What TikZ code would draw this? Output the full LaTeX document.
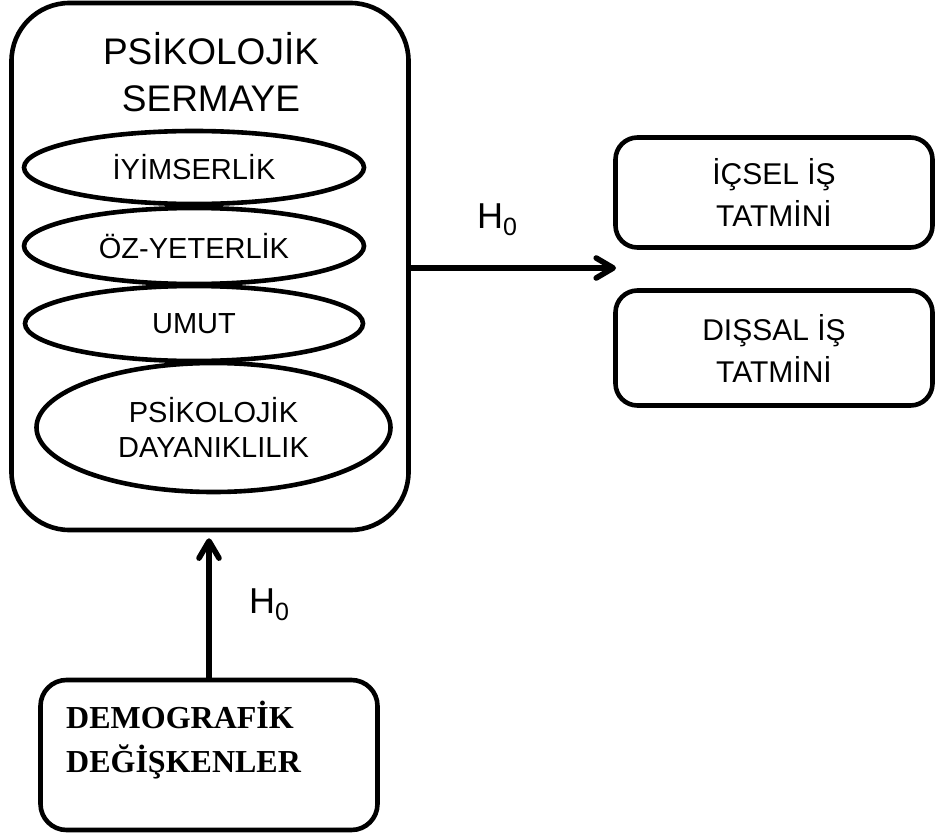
\documentclass[tikz,border=0pt]{standalone}
\usepackage{fontspec}
\setmainfont{Liberation Sans}
\newfontfamily\demofont{Liberation Serif}
\usetikzlibrary{shapes.geometric,arrows.meta}

% subscripted hypothesis label
\newcommand{\hyplabel}{H\raisebox{-7pt}{\fontsize{25}{25}\selectfont 0}}

\begin{document}
\begin{tikzpicture}[x=1pt,y=-1pt,
  frame/.style={draw,line width=4.6pt,rounded corners=58pt,inner sep=0pt},
  trait/.style={draw,ellipse,line width=4.6pt,inner sep=0pt,align=center,
    font=\fontsize{29}{35}\selectfont},
  outcome/.style={draw,line width=4.6pt,rounded corners=22pt,inner sep=0pt,
    align=center,font=\fontsize{30}{42}\selectfont},
  source/.style={draw,line width=4.6pt,rounded corners=26pt,inner sep=0pt},
  link/.style={line width=5.6pt,line cap=round,
    -{Straight Barb[length=17pt,width=20pt,line cap=round,line join=round]}},
  hyp/.style={inner sep=0pt,anchor=base west,font=\fontsize{36}{36}\selectfont}
]
\useasboundingbox (0,0) rectangle (936,837);

% psychological capital block
\node[frame,minimum width=397pt,minimum height=527pt] (capital) at (210,266.5) {};
\node[inner sep=0pt,align=center,font=\fontsize{37}{47}\selectfont] (title) at (211,72)
  {PSİKOLOJİK\\SERMAYE};
\node[trait,minimum width=340pt,minimum height=73pt] (optimism) at (194,167.5) {İYİMSERLİK};
\node[trait,minimum width=340pt,minimum height=76pt] (efficacy) at (194,246) {ÖZ-YETERLİK};
\node[trait,minimum width=338pt,minimum height=75pt] (hope) at (194,323.5) {UMUT};
\node[trait,minimum width=354pt,minimum height=129pt] (resilience) at (213.5,427.5)
  {PSİKOLOJİK\\DAYANIKLILIK};

% job satisfaction outcomes
\node[outcome,minimum width=317pt,minimum height=110pt] (intrinsic) at (774,192.5)
  {İÇSEL İŞ\\TATMİNİ};
\node[outcome,minimum width=317pt,minimum height=115pt] (extrinsic) at (774,348)
  {DIŞSAL İŞ\\TATMİNİ};

% demographic variables
\node[source,minimum width=337pt,minimum height=150pt] (demo) at (209,755) {};
\node[inner sep=0pt,anchor=west,align=left,
  font=\demofont\bfseries\fontsize{32}{44}\selectfont] (demotext) at (66,740)
  {DEMOGRAFİK\\DEĞİŞKENLER};

% hypothesised effects
\coordinate (outcomes) at (616,268);
\draw[link] (capital.east |- outcomes) -- (outcomes);
\draw[link,shorten >=6pt] (demo.north) -- (demo.north |- capital.south);

\node[hyp] (h1) at (477,228) {\hyplabel};
\node[hyp] (h2) at (249,613) {\hyplabel};
\end{tikzpicture}
\end{document}
